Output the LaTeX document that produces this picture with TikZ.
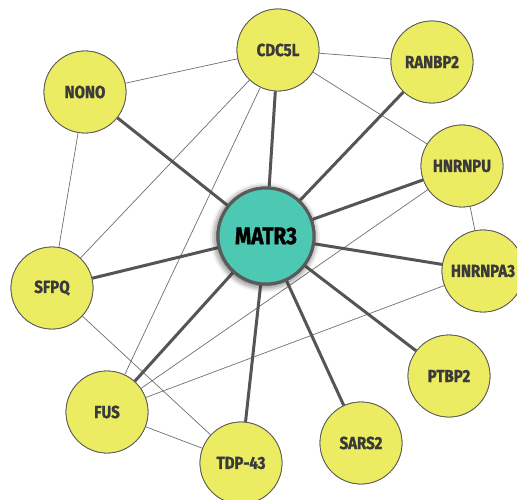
\documentclass[tikz,border=0pt]{standalone}
\usepackage{fontspec}
\newfontfamily\labelfont{Fira Sans}[FakeStretch=0.86, BoldFeatures={FakeBold=1.3}]
\usetikzlibrary{shadows.blur}
\definecolor{geneyellow}{HTML}{ECEC62}
\definecolor{hubteal}{HTML}{4DC8B2}
\definecolor{rimgray}{HTML}{5A5A5A}
\definecolor{linkgray}{HTML}{555555}
\definecolor{textgray}{HTML}{3A3A3A}
\begin{document}
\begin{tikzpicture}[x=1pt,y=-1pt,
  gene/.style={circle, draw=rimgray, line width=0.8pt, fill=geneyellow,
    minimum size=82pt, inner sep=0pt, text=textgray,
    font=\labelfont\bfseries\fontsize{17.5pt}{17.5pt}\selectfont},
  hub/.style={circle, draw=rimgray, line width=3pt, fill=hubteal,
    minimum size=96pt, inner sep=0pt, text=black,
    font=\labelfont\bfseries\fontsize{24pt}{24pt}\selectfont,
    blur shadow={shadow xshift=-1pt, shadow yshift=-1.5pt,
      shadow blur radius=7pt, shadow opacity=45}},
  strong/.style={draw=linkgray, line width=3pt},
  weak/.style={draw=linkgray!85, line width=0.7pt}]
\useasboundingbox (0,0) rectangle (517,500);
\clip (0,0) rectangle (517,500);

% interaction partners (placed first so the links can refer to them)
\node[gene] (cdc5l)   at (278,50)  {CDC5L};
\node[gene] (ranbp2)  at (432,62)  {RANBP2};
\node[gene] (nono)    at (85,92)   {NONO};
\node[gene] (hnrnpu)  at (462,166) {HNRNPU};
\node[gene] (hnrnpa3) at (483,271) {HNRNPA3};
\node[gene] (sfpq)    at (52,288)  {SFPQ};
\node[gene] (ptbp2)   at (449,376) {PTBP2};
\node[gene] (fus)     at (107,412) {FUS};
\node[gene] (sars2)   at (361,443) {SARS2};
\node[gene] (tdp)     at (241,463) {TDP-43};

% links among partners
\path[weak] (nono) -- (cdc5l);
\path[weak] (nono) -- (sfpq);
\path[weak] (cdc5l) -- (ranbp2);
\path[weak] (cdc5l) -- (hnrnpu);
\path[weak] (cdc5l) -- (sfpq);
\path[weak] (cdc5l) -- (fus);
\path[weak] (hnrnpu) -- (hnrnpa3);
\path[weak] (hnrnpu) -- (fus);
\path[weak] (hnrnpa3) -- (fus);
\path[weak] (sfpq) -- (tdp);
\path[weak] (fus) -- (tdp);

% hub
\node[hub] (matr3) at (266,236) {MATR3};

% links from the hub
\foreach \g in {nono,cdc5l,ranbp2,hnrnpu,hnrnpa3,ptbp2,sars2,tdp,fus,sfpq}
  \path[strong] (matr3) -- (\g);

% redraw nodes over the links
\node[gene] at (cdc5l)   {CDC5L};
\node[gene] at (ranbp2)  {RANBP2};
\node[gene] at (nono)    {NONO};
\node[gene] at (hnrnpu)  {HNRNPU};
\node[gene] at (hnrnpa3) {HNRNPA3};
\node[gene] at (sfpq)    {SFPQ};
\node[gene] at (ptbp2)   {PTBP2};
\node[gene] at (fus)     {FUS};
\node[gene] at (sars2)   {SARS2};
\node[gene] at (tdp)     {TDP-43};
\node[hub]  at (matr3)   {MATR3};
\end{tikzpicture}
\end{document}
